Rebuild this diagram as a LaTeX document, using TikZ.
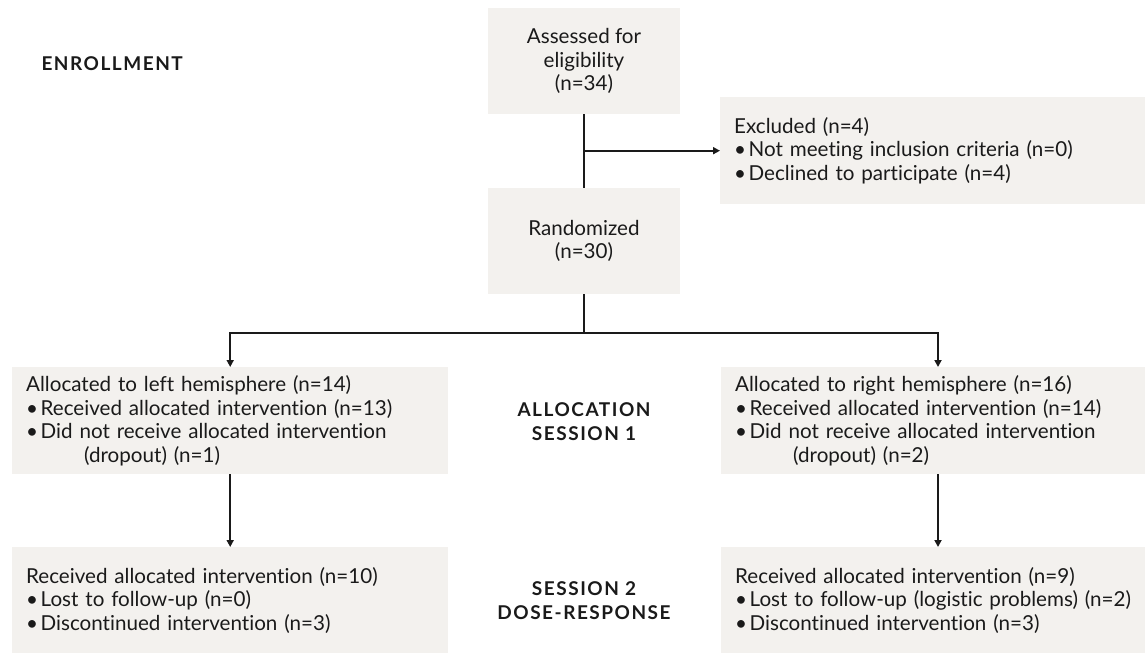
\documentclass[tikz,border=0pt]{standalone}
\usepackage{fontspec}
\setmainfont{Lato}[Ligatures=NoCommon]
\newfontfamily\labfont[LetterSpace=8]{Lato}
\usetikzlibrary{arrows.meta}
\definecolor{boxfill}{HTML}{F3F1EE}
\definecolor{ink}{HTML}{1A1A1A}
\newcommand\bul{\makebox[14.5pt][l]{•}}
\begin{document}
\begin{tikzpicture}[x=1pt,y=-1pt,
  box/.style={fill=boxfill, draw=none, inner sep=0pt, font=\fontsize{20.6}{23.6}\selectfont, text=ink},
  cbox/.style={box, align=center, minimum width=192pt, minimum height=106pt},
  lbox/.style={box, align=left, anchor=north west, inner xsep=14pt},
  stage/.style={font=\labfont\bfseries\fontsize{19}{24}\selectfont, align=center, text=ink},
  conn/.style={line width=2.4pt, draw=ink},
  arr/.style={conn, -{Triangle[length=7pt,width=7pt]}}
]
\useasboundingbox (0,0) rectangle (1145,653);

% stage labels
\node[stage, anchor=base west] (enr) at (38,70) {ENROLLMENT};
\node[stage] (alloc) at (584,422) {ALLOCATION\\SESSION 1};
\node[stage] (dose) at (584,601) {SESSION 2\\DOSE-RESPONSE};

% boxes
\node[cbox] (assess) at (584,61) {Assessed for\\eligibility\\(n=34)};
\node[cbox] (rand) at (584,241) {Randomized\\(n=30)};
\node[lbox, text width=397pt, minimum height=107pt] (excl) at (720,97)
  {Excluded (n=4)\\
   \bul Not meeting inclusion criteria (n=0)\\
   \bul Declined to participate (n=4)};
\node[lbox, text width=408pt, minimum height=107pt] (alloL) at (12,367)
  {Allocated to left hemisphere (n=14)\\
   \bul Received allocated intervention (n=13)\\
   \bul Did not receive allocated intervention\\
   \hspace*{58pt}(dropout) (n=1)};
\node[lbox, text width=396pt, minimum height=107pt] (alloR) at (721,367)
  {Allocated to right hemisphere (n=16)\\
   \bul Received allocated intervention (n=14)\\
   \bul Did not receive allocated intervention\\
   \hspace*{58pt}(dropout) (n=2)};
\node[lbox, text width=408pt, minimum height=106pt] (sessL) at (12,547)
  {Received allocated intervention (n=10)\\
   \bul Lost to follow-up (n=0)\\
   \bul Discontinued intervention (n=3)};
\node[lbox, text width=396pt, minimum height=106pt] (sessR) at (721,547)
  {Received allocated intervention (n=9)\\
   \bul Lost to follow-up (logistic problems) (n=2)\\
   \bul Discontinued intervention (n=3)};

% connectors
\coordinate (split) at (584,333);
\coordinate (rx) at (938,0);
\draw[conn] (assess.south) -- (rand.north);
\draw[arr] (assess.south |- excl.west) -- (excl.west);
\draw[conn] (rand.south) -- (split);
\draw[arr] (split) -| (alloL.north);
\draw[arr] (split) -| (rx |- alloR.north);
\draw[arr] (alloL.south) -- (sessL.north);
\draw[arr] (rx |- alloR.south) -- (rx |- sessR.north);
\end{tikzpicture}
\end{document}
